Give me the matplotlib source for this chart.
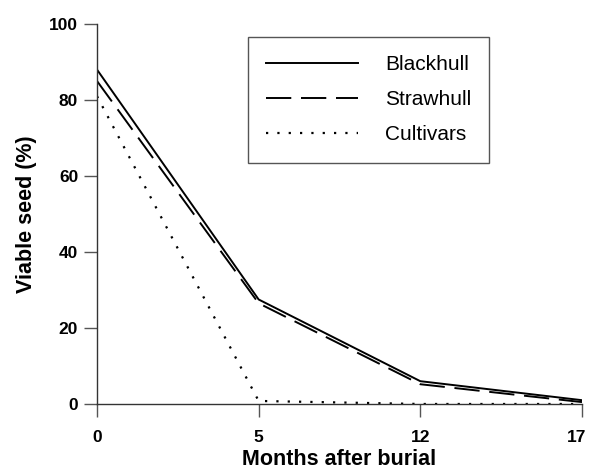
import matplotlib.pyplot as plt
import matplotlib.transforms as mtransforms

plt.rcParams['font.family'] = ['Liberation Sans', 'DejaVu Sans']

# data
months = ['0', '5', '12', '17']
blackhull = [88, 27.5, 6, 1]
strawhull = [85, 26.5, 5.2, 0.5]
cultivars = [81, 0.8, 0, 0]

x = range(len(months))

fig = plt.figure(figsize=(5.9, 4.75), dpi=100)
ax = fig.add_axes([0.1644, 0.1495, 0.822, 0.80])

ax.plot(x, blackhull, color='black', lw=1.4, linestyle='-', label='Blackhull')
ax.plot(x, strawhull, color='black', lw=1.4, linestyle=(0, (13, 5)), label='Strawhull')
ax.plot(x, cultivars, color='black', lw=1.6, linestyle=(0, (1, 4.1)), label='Cultivars')

ax.set_xlim(0, 3)
ax.set_ylim(0, 100)
ax.set_xticks(list(x))
ax.set_xticklabels(months)
ax.set_yticks([0, 20, 40, 60, 80, 100])

for s in ['top', 'right']:
    ax.spines[s].set_visible(False)
for s in ['left', 'bottom']:
    ax.spines[s].set_color('#333333')
    ax.spines[s].set_linewidth(1.0)
ax.tick_params(direction='out', length=9.5, width=1.0, color='#555555', labelsize=12.5)
ax.tick_params(axis='x', pad=9)
ax.tick_params(axis='y', pad=4)
for lab in ax.get_xticklabels() + ax.get_yticklabels():
    lab.set_fontweight('bold')

# nudge the last x label so it stays inside the figure
last = ax.get_xticklabels()[-1]
last.set_transform(last.get_transform() + mtransforms.ScaledTranslation(-4 / 72, 0, fig.dpi_scale_trans))

ax.set_xlabel('Months after burial', fontsize=15.5, fontweight='bold', labelpad=3)
ax.set_ylabel('Viable seed (%)', fontsize=15.5, fontweight='bold', labelpad=9)

leg = ax.legend(loc='upper left', bbox_to_anchor=(0.311, 0.966), fontsize=15,
                handlelength=4.4, handletextpad=1.3, borderpad=0.88,
                labelspacing=0.77, fancybox=False, framealpha=1, borderaxespad=0)
leg.get_frame().set_edgecolor('#555555')
leg.get_frame().set_linewidth(1.0)

fig.savefig('out.png', dpi=100)
